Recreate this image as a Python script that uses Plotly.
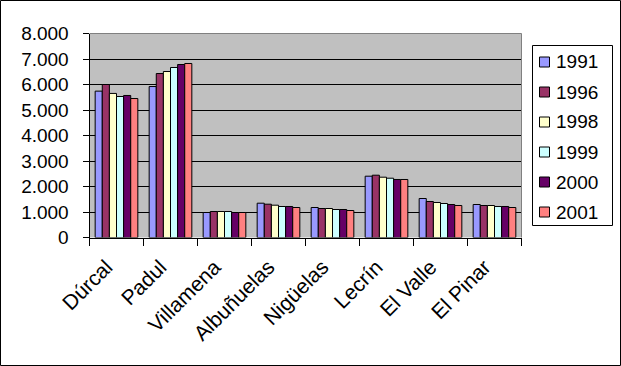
import plotly.graph_objects as go

categories = ["Dúrcal", "Padul", "Villamena", "Albuñuelas", "Nigüelas", "Lecrín", "El Valle", "El Pinar"]
years = ["1991", "1996", "1998", "1999", "2000", "2001"]
v1991 = [5740, 5920, 980, 1345, 1176, 2404, 1529, 1294]
v1996 = [6000, 6430, 1020, 1306, 1137, 2443, 1412, 1255]
v1998 = [5650, 6510, 1020, 1267, 1137, 2365, 1373, 1255]
v1999 = [5530, 6667, 1020, 1216, 1098, 2325, 1333, 1216]
v2000 = [5570, 6784, 980, 1216, 1098, 2275, 1294, 1216]
v2001 = [5450, 6824, 980, 1176, 1059, 2275, 1255, 1176]
series = [v1991, v1996, v1998, v1999, v2000, v2001]
colors = ["#9999FF", "#993366", "#FFFFCC", "#CCFFFF", "#660066", "#FF8080"]
y_ticks = [0, 1000, 2000, 3000, 4000, 5000, 6000, 7000, 8000]

fig = go.Figure()
for name, vals, col in zip(years, series, colors):
    fig.add_trace(go.Bar(
        x=categories, y=vals, name=name, showlegend=False,
        marker=dict(color=col, line=dict(color="black", width=1)),
    ))

W, H = 621, 366

def fx(x):
    return x / W

def fy(y):
    return 1 - y / H

# custom legend (box + swatches + labels)
shapes = [
    dict(type="line", xref="paper", yref="paper", x0=fx(89.5), x1=fx(521.5), y0=fy(33.5), y1=fy(33.5),
         line=dict(color="#808080", width=1)),
    dict(type="line", xref="paper", yref="paper", x0=fx(521.5), x1=fx(521.5), y0=fy(237.5), y1=fy(33.5),
         line=dict(color="#808080", width=1)),
    dict(type="rect", xref="paper", yref="paper",
         x0=fx(0.5), x1=fx(620.5), y0=fy(365.5), y1=fy(0.5),
         line=dict(color="black", width=1)),
    dict(type="rect", xref="paper", yref="paper",
         x0=fx(532.5), x1=fx(612.5), y0=fy(225.5), y1=fy(45.5),
         line=dict(color="black", width=1), fillcolor="white"),
]
annotations = []
for i, (name, col) in enumerate(zip(years, colors)):
    cy = 62 + 30 * i
    shapes.append(dict(type="rect", xref="paper", yref="paper",
                       x0=fx(539.5), x1=fx(549.5), y0=fy(cy + 5), y1=fy(cy - 5),
                       line=dict(color="black", width=1), fillcolor=col))
    annotations.append(dict(xref="paper", yref="paper", x=fx(554), y=fy(cy),
                            xanchor="left", yanchor="middle", showarrow=False,
                            text=name, font=dict(size=19, color="black")))

fig.update_layout(
    width=W, height=H,
    margin=dict(l=0, r=0, t=0, b=0, pad=0),
    paper_bgcolor="white",
    plot_bgcolor="#C0C0C0",
    separators=",.",
    font=dict(family="Liberation Sans, Arial, sans-serif", size=19, color="black"),
    barmode="group",
    bargap=0.21,
    bargroupgap=0,
    showlegend=False,
    xaxis=dict(
        type="category", tickangle=-45, automargin=False,
        domain=[fx(89.5), fx(521.5)],
        showline=True, linecolor="black", linewidth=1,
        ticks="outside", ticklen=7, tickcolor="black", tickson="boundaries",
        showgrid=False, tickfont=dict(size=21),
        ticklabelshift=-10, ticklabelstandoff=8,
    ),
    yaxis=dict(
        range=[0, 8000], tickvals=y_ticks, tickformat=",d", automargin=False,
        domain=[fy(237.5), fy(33.5)],
        showline=True, linecolor="black", linewidth=1,
        ticks="outside", ticklen=6, tickcolor="black",
        showgrid=True, gridcolor="black", gridwidth=1,
        zeroline=False, tickfont=dict(size=19),
        ticklabelstandoff=10,
    ),
    shapes=shapes,
    annotations=annotations,
)

fig.write_html("out.html", config={"displayModeBar": False},
               post_script="document.body.style.margin='0';document.body.style.overflow='hidden';")
